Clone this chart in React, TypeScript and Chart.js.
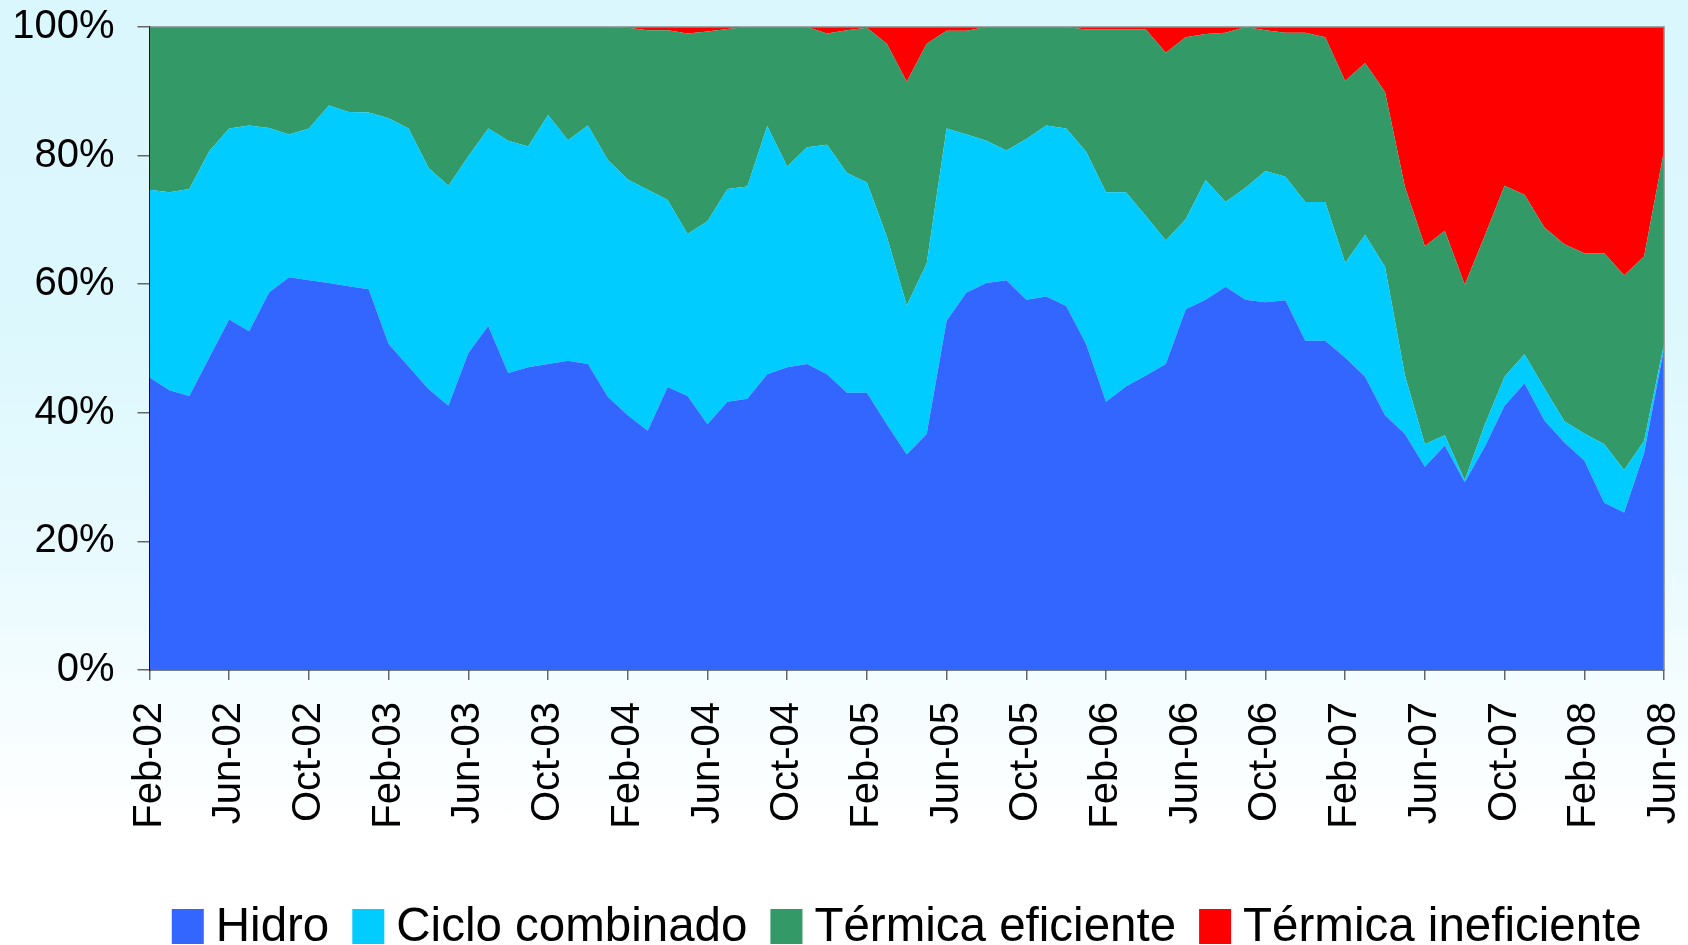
import React, { useEffect, useRef } from "react";
import { Chart, registerables } from "chart.js";

Chart.register(...registerables);

const FONT = "'Liberation Sans', Arial, Helvetica, sans-serif";

// Monthly categories from Feb-02 to Jun-08
const MONTH_NAMES = ["Jan", "Feb", "Mar", "Apr", "May", "Jun", "Jul", "Aug", "Sep", "Oct", "Nov", "Dec"];
const START_YEAR = 2002;
const START_MONTH = 1; // Feb
const MONTH_COUNT = 77;
const categories: string[] = Array.from({ length: MONTH_COUNT }, (_, i) => {
  const m = (START_MONTH + i) % 12;
  const y = START_YEAR + Math.floor((START_MONTH + i) / 12);
  return `${MONTH_NAMES[m]}-${String(y % 100).padStart(2, "0")}`;
});
const LABEL_EVERY = 4;

const yTicks = [0, 20, 40, 60, 80, 100];

const seriesLabels = ["Hidro", "Ciclo combinado", "Térmica eficiente", "Térmica ineficiente"];
const seriesColors = ["#3366FF", "#00CCFF", "#339966", "#FF0000"];

// Shares in % (stacked to 100)
const hidro = [
  45.5, 43.5, 42.6, 48.6, 54.5, 52.7, 58.7, 61.1, 60.6, 60.2,
  59.7, 59.2, 50.7, 47.2, 43.7, 41.1, 49.3, 53.5, 46.2, 47.1,
  47.6, 48.1, 47.6, 42.5, 39.6, 37.2, 44.0, 42.6, 38.2, 41.7,
  42.2, 46.0, 47.1, 47.6, 46.0, 43.1, 43.1, 38.2, 33.5, 36.7,
  54.3, 58.7, 60.2, 60.6, 57.6, 58.1, 56.6, 50.7, 41.7, 44.1,
  45.8, 47.6, 56.1, 57.6, 59.6, 57.6, 57.2, 57.5, 51.2, 51.2,
  48.6, 45.6, 39.6, 36.7, 31.6, 34.9, 29.2, 34.7, 41.1, 44.6,
  38.8, 35.4, 32.6, 26.0, 24.5, 33.7, 50.0,
];

const cicloCombinado = [
  29.2, 30.8, 32.2, 32.1, 29.7, 32.0, 25.6, 22.2, 23.6, 27.6,
  27.1, 27.5, 35.1, 37.0, 34.4, 34.2, 30.6, 30.7, 36.1, 34.3,
  38.7, 34.3, 37.1, 36.8, 36.7, 37.5, 29.1, 25.2, 31.6, 33.1,
  33.0, 38.6, 31.2, 33.7, 35.7, 34.2, 32.7, 29.2, 23.2, 26.5,
  29.9, 24.6, 22.1, 20.2, 25.0, 26.6, 27.6, 29.9, 32.6, 30.2,
  24.8, 19.2, 14.0, 18.6, 13.2, 17.4, 20.4, 19.2, 21.6, 21.6,
  14.7, 22.1, 23.1, 9.1, 3.5, 1.6, 0.3, 3.4, 4.5, 4.5,
  5.0, 3.3, 4.2, 9.1, 6.6, 1.9, 0.7,
];

const termicaEficiente = [
  25.3, 25.7, 25.2, 19.3, 15.8, 15.3, 15.7, 16.7, 15.8, 12.2,
  13.2, 13.3, 14.2, 15.8, 21.9, 24.7, 20.1, 15.8, 17.7, 18.6,
  13.7, 17.6, 15.3, 20.7, 23.6, 24.8, 26.4, 31.2, 29.5, 24.9,
  24.8, 15.4, 21.7, 18.7, 17.3, 22.2, 24.1, 30.0, 34.8, 34.2,
  15.2, 16.1, 17.7, 19.2, 17.4, 15.3, 15.8, 19.0, 25.3, 25.3,
  29.0, 29.2, 28.3, 22.7, 26.3, 25.0, 21.9, 22.4, 26.3, 25.6,
  28.3, 26.7, 27.2, 29.3, 30.8, 31.8, 30.4, 29.4, 29.7, 24.8,
  25.0, 27.5, 28.0, 29.7, 30.3, 28.7, 30.0,
];

const termicaIneficiente = [
  0, 0, 0, 0, 0, 0, 0, 0, 0, 0,
  0, 0, 0, 0, 0, 0, 0, 0, 0, 0,
  0, 0, 0, 0, 0.1, 0.5, 0.5, 1.0, 0.7, 0.3,
  0, 0, 0, 0, 1.0, 0.5, 0.1, 2.6, 8.5, 2.6,
  0.6, 0.6, 0, 0, 0, 0, 0, 0.4, 0.4, 0.4,
  0.4, 4.0, 1.6, 1.1, 0.9, 0, 0.5, 0.9, 0.9, 1.6,
  8.4, 5.6, 10.1, 24.9, 34.1, 31.7, 40.1, 32.5, 24.7, 26.1,
  31.2, 33.8, 35.2, 35.2, 38.6, 35.7, 19.3,
];

const seriesValues = [hidro, cicloCombinado, termicaEficiente, termicaIneficiente];

const frameBorderPlugin = {
  id: "frameBorder",
  afterDatasetsDraw(chart: any) {
    const { ctx, chartArea } = chart;
    ctx.save();
    ctx.strokeStyle = "#8a8a8a";
    ctx.lineWidth = 1.5;
    ctx.beginPath();
    ctx.moveTo(chartArea.left, chartArea.top);
    ctx.lineTo(chartArea.right, chartArea.top);
    ctx.lineTo(chartArea.right, chartArea.bottom);
    ctx.stroke();
    ctx.restore();
  },
};

const legendPlugin = {
  id: "bottomLegend",
  afterDraw(chart: any) {
    const { ctx, chartArea } = chart;
    const boxW = 32;
    const boxH = 35;
    const gapText = 12;
    const gapItem = 23;
    const baseline = chart.height - 4;
    ctx.save();
    ctx.font = `47.5px ${FONT}`;
    ctx.textBaseline = "alphabetic";
    ctx.textAlign = "left";
    const items = chart.data.datasets.map((ds: any) => ({
      text: ds.label as string,
      color: ds.backgroundColor as string,
      w: ctx.measureText(ds.label).width,
    }));
    const total =
      items.reduce((s: number, it: any) => s + boxW + gapText + it.w, 0) + gapItem * (items.length - 1);
    let x = (chartArea.left + chartArea.right) / 2 - total / 2;
    for (const it of items) {
      ctx.fillStyle = it.color;
      ctx.fillRect(x, baseline - boxH + 3, boxW, boxH);
      ctx.fillStyle = "#000";
      ctx.fillText(it.text, x + boxW + gapText, baseline);
      x += boxW + gapText + it.w + gapItem;
    }
    ctx.restore();
  },
};

export default function App() {
  const canvasRef = useRef<HTMLCanvasElement | null>(null);

  useEffect(() => {
    const canvas = canvasRef.current;
    if (!canvas) return;
    const chart = new Chart(canvas, {
      type: "line",
      data: {
        labels: categories,
        datasets: seriesLabels.map((label, k) => ({
          label,
          data: seriesValues[k],
          backgroundColor: seriesColors[k],
          borderColor: seriesColors[k],
          borderWidth: 0,
          pointRadius: 0,
          pointHoverRadius: 0,
          tension: 0,
          fill: k === 0 ? "origin" : "-1",
        })),
      },
      options: {
        responsive: false,
        animation: false,
        devicePixelRatio: 1,
        layout: { padding: { left: 12, right: 24, top: 27, bottom: 116 } },
        plugins: {
          legend: { display: false },
          tooltip: { enabled: false },
          title: { display: false },
        },
        scales: {
          x: {
            type: "category",
            offset: false,
            afterFit: (scale: any) => {
              scale.height = 159;
              scale.paddingLeft = 0;
              scale.paddingRight = 0;
            },
            grid: {
              display: true,
              drawOnChartArea: false,
              drawTicks: true,
              tickLength: 10,
              color: "#666",
              lineWidth: 1.5,
            },
            border: { display: true, color: "#000", width: 1.5 },
            ticks: {
              autoSkip: false,
              maxRotation: 90,
              minRotation: 90,
              padding: 22,
              color: "#000",
              font: { family: FONT, size: 40 },
              callback: (_v: any, idx: number) => (idx % LABEL_EVERY === 0 ? categories[idx] : null),
            },
          },
          y: {
            stacked: true,
            min: 0,
            max: 100,
            afterBuildTicks: (axis: any) => {
              axis.ticks = yTicks.map((v) => ({ value: v }));
            },
            afterFit: (scale: any) => {
              scale.width = 137.5;
              scale.paddingTop = 0;
              scale.paddingBottom = 0;
            },
            grid: {
              display: true,
              drawOnChartArea: false,
              drawTicks: true,
              tickLength: 12,
              color: "#666",
              lineWidth: 1.5,
            },
            border: { display: true, color: "#000", width: 1.5 },
            ticks: {
              padding: 23,
              color: "#000",
              font: { family: FONT, size: 40 },
              callback: (v: any) => `${v}%`,
            },
          },
        },
      },
      plugins: [frameBorderPlugin, legendPlugin],
    });
    return () => chart.destroy();
  }, []);

  return (
    <div
      style={{
        position: "fixed",
        left: 0,
        top: 0,
        width: 1688,
        height: 945,
        background:
          "linear-gradient(to bottom, #daf7fd 0%, #ddf8fd 35%, #e9fafe 60%, #f6fdff 75%, #ffffff 88%)",
      }}
    >
      <canvas ref={canvasRef} width={1688} height={945} style={{ display: "block", width: 1688, height: 945 }} />
    </div>
  );
}
